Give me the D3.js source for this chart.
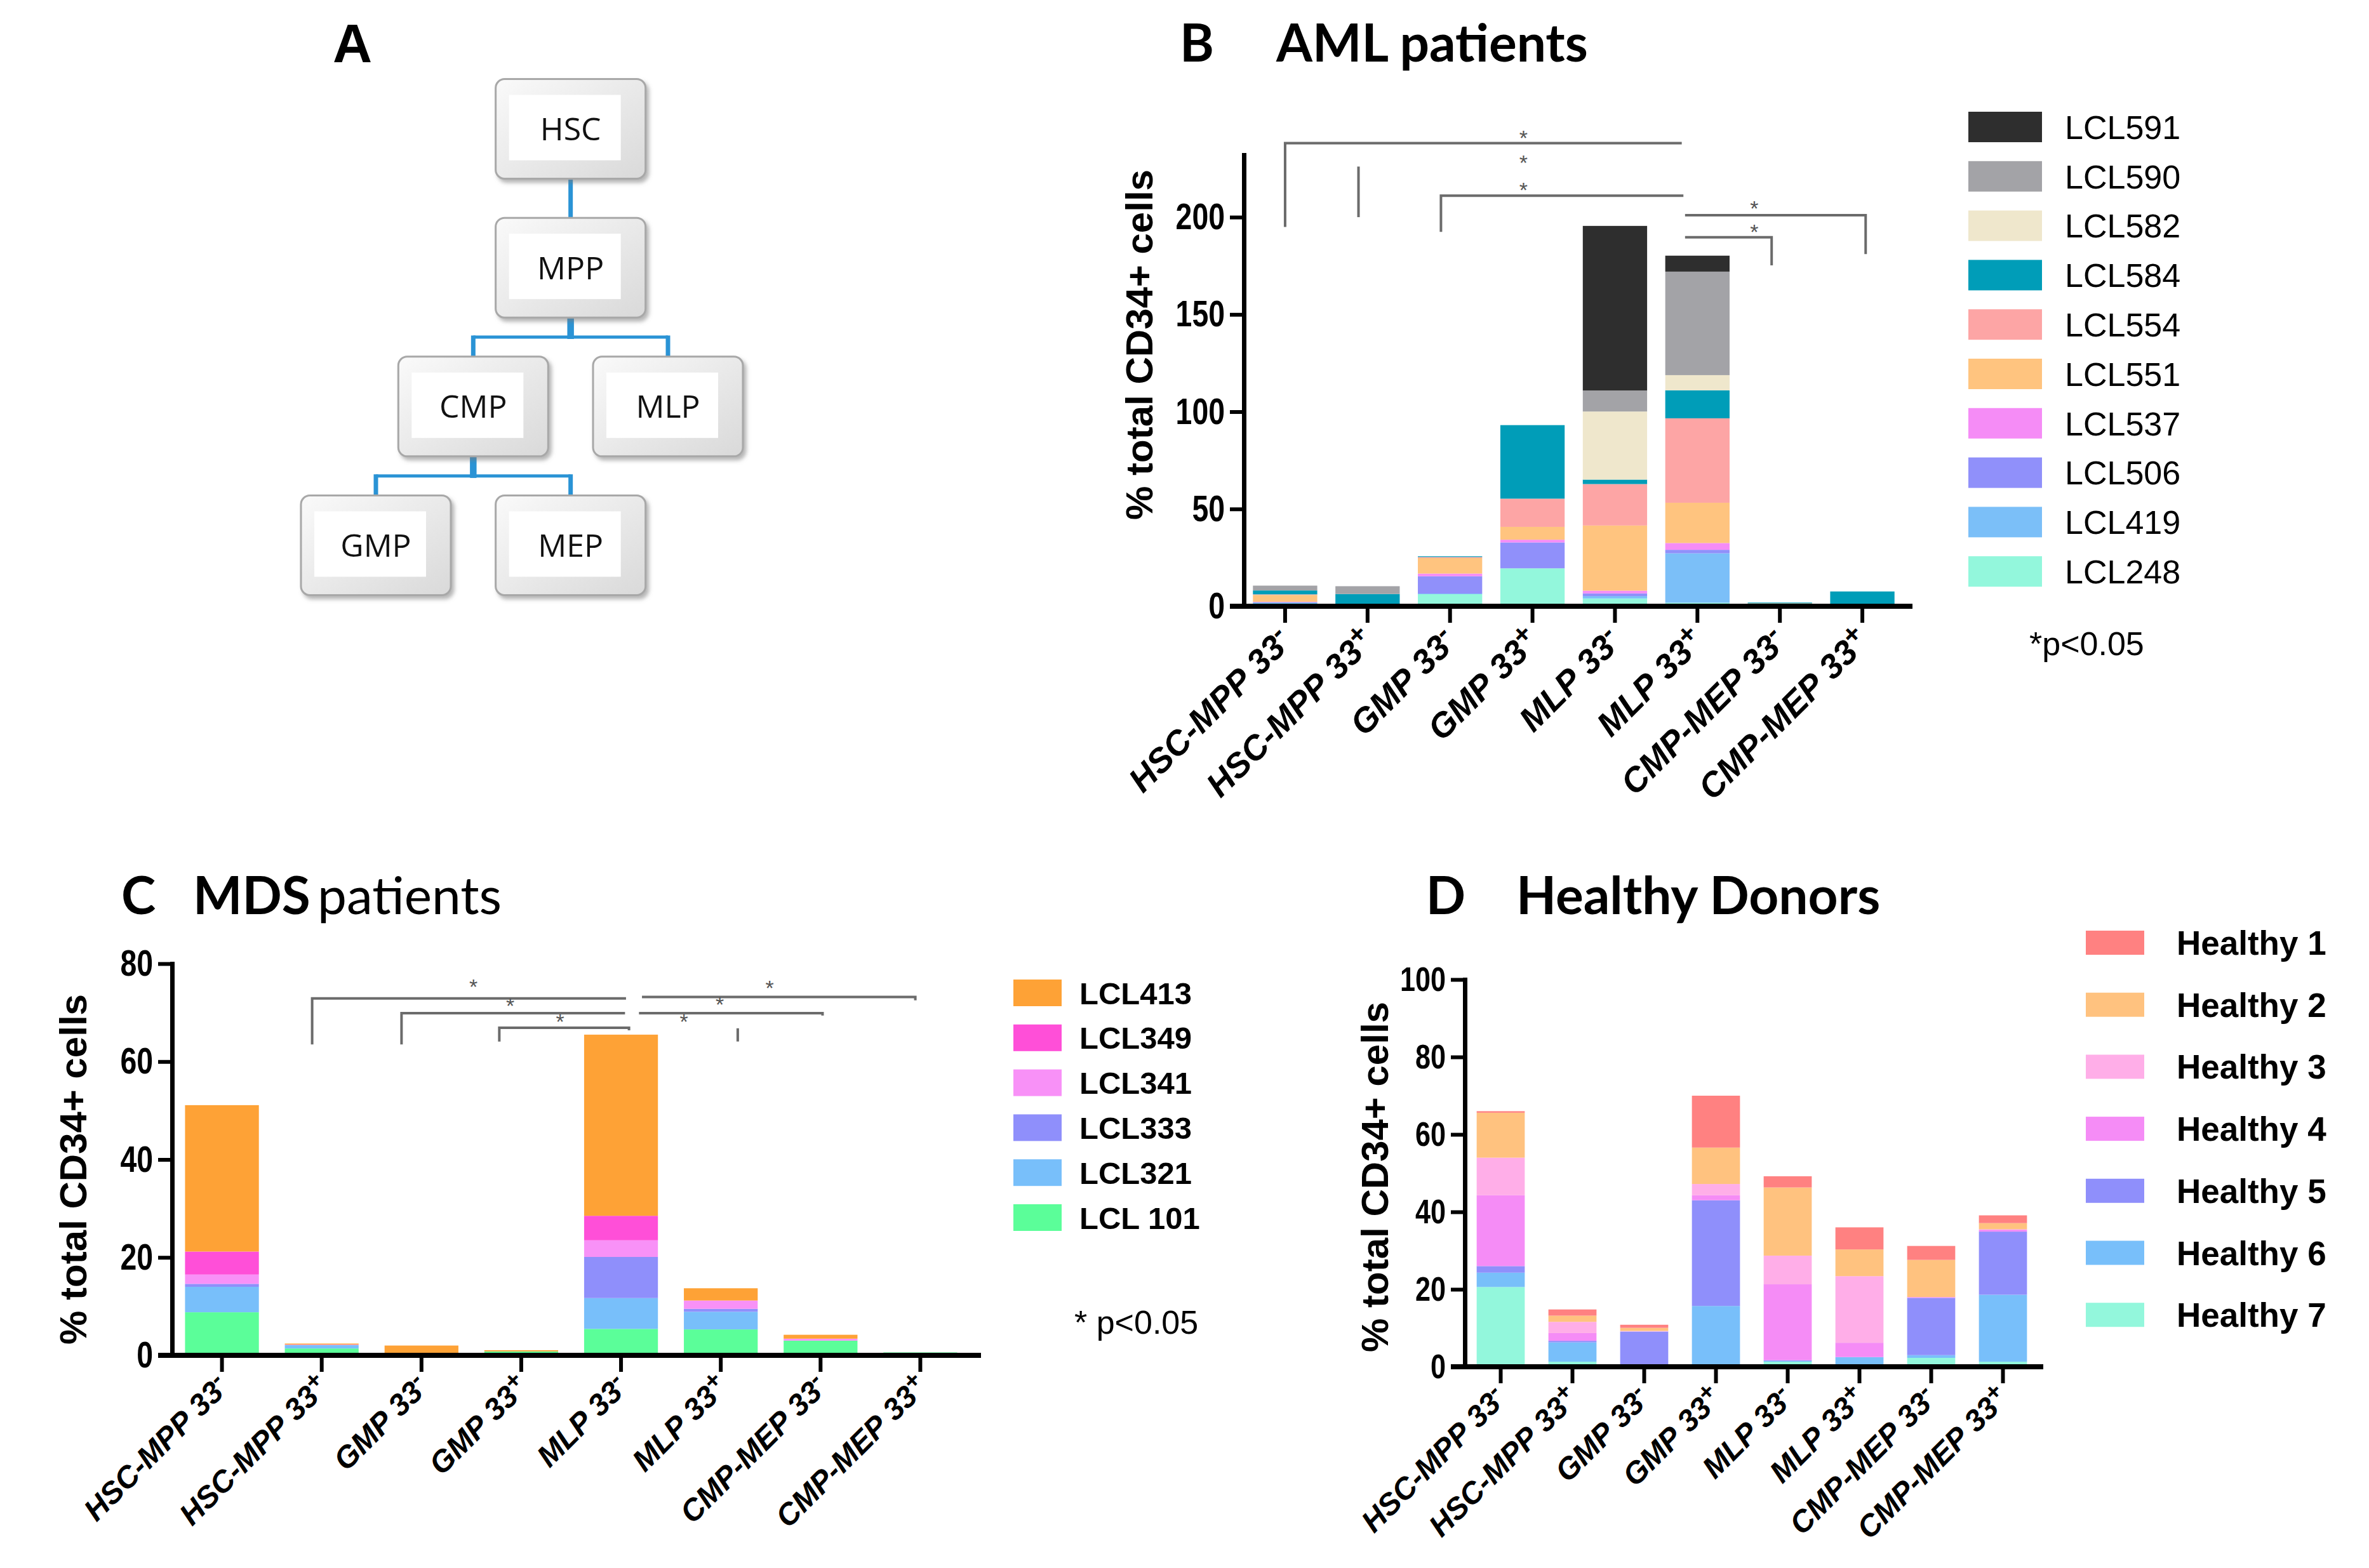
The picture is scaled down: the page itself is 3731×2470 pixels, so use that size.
<!DOCTYPE html>
<html>
<head>
<meta charset="utf-8">
<script src="https://cdn.jsdelivr.net/npm/d3@7"></script>
<style>
  body { margin: 0; background: #fff; }
  svg { display: block; }
</style>
</head>
<body>
<svg id="fig"></svg>
<script>
// categories on the x axis of panels B, C and D
const categories = ["HSC-MPP 33-", "HSC-MPP 33+", "GMP 33-", "GMP 33+", "MLP 33-", "MLP 33+", "CMP-MEP 33-", "CMP-MEP 33+"];

// panel B - AML patients, stacked bottom -> top
const amlNames = ["LCL248", "LCL419", "LCL506", "LCL537", "LCL551", "LCL554", "LCL584", "LCL582", "LCL590", "LCL591"];
const lcl248 = [1.2, 0.5, 6.2, 19.5, 4.0, 1.8, 1.2, 0.3];
const lcl419 = [0.8, 0.3, 0.3, 0, 1.2, 25.4, 0, 0];
const lcl506 = [0, 0, 8.9, 13.3, 1.4, 1.8, 0, 0];
const lcl537 = [0.3, 0, 1.4, 1.4, 1.4, 3.5, 0, 0];
const lcl551 = [3.5, 0, 8.0, 6.6, 33.5, 20.7, 0.3, 0.5];
const lcl554 = [0.3, 0, 0.5, 14.5, 21.3, 43.4, 0, 0];
const lcl584 = [2.0, 5.5, 0.4, 37.8, 2.3, 14.4, 0.4, 6.8];
const lcl582 = [0, 0, 0, 0, 35.0, 7.8, 0, 0];
const lcl590 = [2.5, 4.0, 0, 0, 10.8, 53.2, 0, 0];
const lcl591 = [0, 0, 0, 0, 84.6, 8.2, 0, 0];
const amlTicks = [0, 50, 100, 150, 200];
// significance brackets: [category index, value] points, and star marks
const amlBrackets = [
  [[0, 195], [0, 238], [4.81, 238]],
  [[0.89, 200], [0.89, 226]],
  [[1.89, 192.4], [1.89, 211], [4.83, 211]],
  [[4.85, 201], [7.04, 201], [7.04, 181]],
  [[4.85, 189.7], [5.90, 189.7], [5.90, 175.2]]
];
const amlStars = [[2.89, 242], [2.89, 229], [2.89, 215], [5.69, 205.7], [5.69, 193.6]];

// panel C - MDS patients, stacked bottom -> top
const mdsNames = ["LCL 101", "LCL321", "LCL333", "LCL341", "LCL349", "LCL413"];
const lcl101 = [8.8, 1.4, 0.4, 0.8, 5.4, 5.3, 3.0, 0.6];
const lcl321 = [5.2, 0.7, 0.1, 0, 6.3, 3.6, 0, 0];
const lcl333 = [0.6, 0, 0, 0, 8.4, 0.6, 0, 0];
const lcl341 = [1.9, 0.1, 0, 0, 3.4, 1.7, 0.4, 0];
const lcl349 = [4.7, 0, 0, 0, 5.0, 0, 0, 0];
const lcl413 = [29.9, 0.2, 1.5, 0.25, 37.0, 2.5, 0.8, 0];
const mdsTicks = [0, 20, 40, 60, 80];
const mdsBrackets = [
  [[0.904, 63.5], [0.904, 72.9], [4.05, 72.9]],
  [[1.80, 63.5], [1.80, 69.9], [4.04, 69.9]],
  [[2.78, 64.1], [2.78, 66.9], [4.08, 66.9], [4.08, 66.4]],
  [[4.21, 73.2], [6.95, 73.2], [6.95, 72.5]],
  [[4.18, 69.9], [6.02, 69.9], [6.02, 69.4]],
  [[5.17, 66.8], [5.17, 64.1]]
];
const mdsStars = [[2.52, 75.8], [2.89, 71.9], [3.39, 68.6], [5.49, 75.5], [4.99, 72.1], [4.63, 68.6]];

// panel D - healthy donors, stacked bottom -> top
const hdNames = ["Healthy 7", "Healthy 6", "Healthy 5", "Healthy 4", "Healthy 3", "Healthy 2", "Healthy 1"];
const healthy7 = [20.6, 1.3, 0.5, 0, 1.3, 0.5, 2.3, 1.3];
const healthy6 = [3.7, 5.0, 0, 15.7, 0.2, 2.0, 0.7, 17.3];
const healthy5 = [1.7, 0.4, 8.6, 27.3, 0.2, 0, 14.8, 16.3];
const healthy4 = [18.3, 2.0, 0, 1.3, 19.6, 3.7, 0.2, 0.5];
const healthy3 = [9.7, 2.9, 0.15, 2.9, 7.4, 17.2, 0, 0.1];
const healthy2 = [11.6, 1.6, 0.8, 9.4, 17.6, 6.9, 9.6, 1.6];
const healthy1 = [0.4, 1.6, 0.8, 13.4, 2.9, 5.7, 3.6, 2.0];
const hdTicks = [0, 20, 40, 60, 80, 100];

// panel A - hierarchy tree
const treeNodes = ["HSC", "MPP", "CMP", "MLP", "GMP", "MEP"];
const treeCols = [2, 2, 1, 3, 0, 2];
const treeRows = [0, 1, 2, 2, 3, 3];
const treeLinks = [["HSC", "MPP"], ["MPP", "CMP"], ["MPP", "MLP"], ["CMP", "GMP"], ["CMP", "MEP"]];

const W = 3731, H = 2470;
const svg = d3.select("#fig").attr("width", W).attr("height", H).attr("viewBox", `0 0 ${W} ${H}`);
svg.append("rect").attr("width", W).attr("height", H).attr("fill", "#fff");

const defs = svg.append("defs");
let grad = defs.append("linearGradient").attr("id", "bevel").attr("x1", 0).attr("y1", 0).attr("x2", 1).attr("y2", 1);
grad.append("stop").attr("offset", "0%").attr("stop-color", "#fafafa");
grad.append("stop").attr("offset", "100%").attr("stop-color", "#d9d9d9");
let shadow = defs.append("filter").attr("id", "shadow").attr("x", "-10%").attr("y", "-10%").attr("width", "130%").attr("height", "140%");
shadow.append("feDropShadow").attr("dx", 4).attr("dy", 5).attr("stdDeviation", 3).attr("flood-color", "#777").attr("flood-opacity", 0.55);

const sansB = "'Liberation Sans', Arial, sans-serif";
const titleFont = "Lato, 'Open Sans', sans-serif";

// ---------- panel A ----------
let drawTree = () => {
  const colX = d3.scaleLinear().domain([0, 3]).range([592, 1052]);
  const rowY = d3.scaleLinear().domain([0, 3]).range([203, 859]);
  const boxW = 236, boxH = 157;
  const pos = (name) => {
    const i = treeNodes.indexOf(name);
    return { x: colX(treeCols[i]), y: rowY(treeRows[i]) };
  };
  const linkColor = "#2a93d5";
  treeLinks.forEach(([a, b]) => {
    const pa = pos(a), pb = pos(b);
    const yb = pa.y + boxH / 2, yt = pb.y - boxH / 2, ym = (yb + yt) / 2;
    if (pa.x === pb.x && a === "HSC") {
      svg.append("line").attr("x1", pa.x).attr("x2", pb.x).attr("y1", yb).attr("y2", yt)
        .attr("stroke", linkColor).attr("stroke-width", 7);
      return;
    }
    svg.append("line").attr("x1", pa.x).attr("x2", pa.x).attr("y1", yb).attr("y2", ym + 3)
      .attr("stroke", linkColor).attr("stroke-width", 10);
    svg.append("line").attr("x1", pa.x).attr("x2", pb.x).attr("y1", ym).attr("y2", ym)
      .attr("stroke", linkColor).attr("stroke-width", 5);
    svg.append("line").attr("x1", pb.x).attr("x2", pb.x).attr("y1", ym - 2.5).attr("y2", yt)
      .attr("stroke", linkColor).attr("stroke-width", 7);
  });
  const node = svg.selectAll("g.node").data(treeNodes).join("g").attr("class", "node")
    .attr("transform", (d, i) => `translate(${colX(treeCols[i])},${rowY(treeRows[i])})`);
  node.append("rect").attr("x", -boxW / 2).attr("y", -boxH / 2).attr("width", boxW).attr("height", boxH)
    .attr("rx", 14).attr("fill", "url(#bevel)").attr("stroke", "#a8a8a8").attr("stroke-width", 3)
    .attr("filter", "url(#shadow)");
  node.append("rect").attr("x", -boxW / 2 + 21).attr("y", -boxH / 2 + 25).attr("width", boxW - 60).attr("height", boxH - 54)
    .attr("fill", "#fff");
  node.append("text").text(d => d).attr("text-anchor", "middle").attr("dy", "0.36em")
    .attr("font-family", "'Open Sans', sans-serif").attr("font-size", 50).attr("fill", "#111");
  svg.append("text").text("A").attr("x", 555).attr("y", 98).attr("text-anchor", "middle")
    .attr("font-family", sansB).attr("font-weight", 900).attr("font-size", 86);
};

// ---------- stacked bar panels ----------
let drawPanel = (cfg) => {
  const g = svg.append("g");
  const x = d3.scaleBand().domain(categories).range([cfg.left, cfg.right])
    .paddingInner(cfg.pad).paddingOuter(cfg.pad / 2);
  const y = d3.scaleLinear().domain([0, cfg.yMax]).range([cfg.bottom, cfg.top]);
  const idx = d3.scaleLinear().domain([0, categories.length - 1])
    .range([x(categories[0]) + x.bandwidth() / 2, x(categories[categories.length - 1]) + x.bandwidth() / 2]);

  const rows = categories.map((c, i) => {
    const r = { cat: c };
    cfg.names.forEach((n, k) => { r[n] = cfg.values[k][i]; });
    return r;
  });
  const stacked = d3.stack().keys(cfg.names)(rows);
  g.selectAll("g.layer").data(stacked).join("g").attr("class", "layer")
    .attr("fill", (d, k) => cfg.colors[k])
    .selectAll("rect").data(d => d).join("rect")
    .attr("x", d => x(d.data.cat)).attr("width", x.bandwidth())
    .attr("y", d => y(d[1])).attr("height", d => Math.max(0, y(d[0]) - y(d[1])));

  // brackets
  const line = d3.line().x(d => idx(d[0])).y(d => y(d[1]));
  g.selectAll("path.br").data(cfg.brackets).join("path").attr("class", "br")
    .attr("d", line).attr("fill", "none").attr("stroke", "#6b6b6b").attr("stroke-width", 4);
  g.selectAll("text.star").data(cfg.stars).join("text").attr("class", "star")
    .attr("x", d => idx(d[0])).attr("y", d => y(d[1])).attr("dy", "0.45em")
    .attr("text-anchor", "middle").attr("font-family", sansB).attr("font-size", 34).attr("fill", "#555")
    .text("*");

  // y axis, labels drawn condensed like the original
  const ya = g.append("g").attr("transform", `translate(${cfg.left},0)`)
    .call(d3.axisLeft(y).tickValues(cfg.ticks).tickSize(22).tickSizeOuter(0).tickPadding(8));
  ya.select(".domain").attr("stroke", "#000").attr("stroke-width", 7).attr("stroke-linecap", "square");
  ya.selectAll(".tick line").attr("stroke", "#000").attr("stroke-width", 6);
  ya.selectAll(".tick text").attr("font-family", sansB).attr("font-weight", "bold")
    .attr("font-size", cfg.tickFont).attr("fill", "#000")
    .attr("x", -30 / 0.8).attr("transform", "scale(0.8,1)");

  // x axis
  const xa = g.append("g").attr("transform", `translate(0,${cfg.bottom})`)
    .call(d3.axisBottom(x).tickSize(26).tickSizeOuter(0).tickFormat(""));
  xa.select(".domain").attr("d", `M${cfg.left - 22},0H${cfg.axisEnd}`)
    .attr("stroke", "#000").attr("stroke-width", 8);
  xa.selectAll(".tick line").attr("stroke", "#000").attr("stroke-width", 6);

  // rotated category labels
  g.selectAll("text.cat").data(categories).join("text").attr("class", "cat")
    .attr("transform", d => `translate(${x(d) + x.bandwidth() / 2 + cfg.labDx},${cfg.bottom + cfg.labDy}) rotate(-45)`)
    .attr("text-anchor", "end").attr("font-family", sansB).attr("font-weight", "bold")
    .attr("font-style", "italic").attr("font-size", cfg.labFont)
    .each(function (d) {
      const t = d3.select(this);
      t.append("tspan").text(d.slice(0, -1));
      t.append("tspan").text(d.slice(-1)).attr("dy", "-0.4em").attr("font-size", "0.8em");
    });

  // y title
  g.append("text").text("% total CD34+ cells")
    .attr("transform", `translate(${cfg.titleX},${cfg.titleY}) rotate(-90)`)
    .attr("text-anchor", "middle").attr("dy", "0.35em")
    .attr("font-family", sansB).attr("font-weight", "bold").attr("font-size", 60);

  // legend (top row = top of stack)
  const lg = cfg.legend;
  const order = cfg.names.map((n, k) => k).reverse();
  order.forEach((k, r) => {
    const cy = lg.y0 + r * lg.step;
    g.append("rect").attr("x", lg.x).attr("y", cy - lg.h / 2).attr("width", lg.w).attr("height", lg.h)
      .attr("fill", cfg.colors[k]);
    g.append("text").text(cfg.names[k]).attr("x", lg.tx).attr("y", cy).attr("dy", "0.36em")
      .attr("font-family", sansB).attr("font-weight", lg.weight).attr("font-size", lg.font).attr("fill", "#000");
  });
  if (cfg.note) {
    g.append("text").text(cfg.note.text).attr("x", cfg.note.x).attr("y", cfg.note.y)
      .attr("font-family", sansB).attr("font-size", 52).attr("fill", "#000");
  }
};

let drawTitles = () => {
  const t = (txt, x, y, weight, anchor) => svg.append("text").text(txt).attr("x", x).attr("y", y)
    .attr("text-anchor", anchor || "start").attr("font-family", titleFont)
    .attr("font-weight", weight).attr("font-size", 82).attr("fill", "#000");
  t("B", 1885, 97, "bold", "middle");
  t("AML patients", 2010, 97, "bold");
  t("C", 218, 1440, "bold", "middle");
  t("MDS", 304, 1440, "bold");
  t("patients", 500, 1440, "normal");
  t("D", 2277, 1440, "bold", "middle");
  t("Healthy Donors", 2388, 1440, "bold");
};

drawTree();

drawPanel({
  names: amlNames,
  values: [lcl248, lcl419, lcl506, lcl537, lcl551, lcl554, lcl584, lcl582, lcl590, lcl591],
  colors: ["#93f7dc", "#7bbff8", "#9090fa", "#f58cf6", "#ffc47f", "#fda5a5", "#009db8", "#efe7cc", "#a3a3a7", "#2e2e2e"],
  left: 1959, right: 2998, pad: 0.22, bottom: 955, top: 244, yMax: 232, axisEnd: 3012,
  ticks: amlTicks, tickFont: 58,
  brackets: amlBrackets, stars: amlStars,
  labDx: 14, labDy: 58, labFont: 54,
  titleX: 1794, titleY: 543,
  legend: { x: 3100, w: 116, h: 48, tx: 3252, y0: 200, step: 77.8, font: 52, weight: "normal" },
  note: { text: "*p<0.05", x: 3196, y: 1032 }
});

drawPanel({
  names: mdsNames,
  values: [lcl101, lcl321, lcl333, lcl341, lcl349, lcl413],
  colors: ["#5bfe99", "#78bffa", "#8f8ffb", "#f891f7", "#ff4fd8", "#fea236"],
  left: 271, right: 1528, pad: 0.26, bottom: 2135, top: 1518, yMax: 80, axisEnd: 1545,
  ticks: mdsTicks, tickFont: 58,
  brackets: mdsBrackets, stars: mdsStars,
  labDx: 14, labDy: 52, labFont: 48,
  titleX: 115, titleY: 1842,
  legend: { x: 1596, w: 76, h: 42, tx: 1700, y0: 1564, step: 70.8, font: 49, weight: "bold" },
  note: { text: "* p<0.05", x: 1692, y: 2101 }
});

drawPanel({
  names: hdNames,
  values: [healthy7, healthy6, healthy5, healthy4, healthy3, healthy2, healthy1],
  colors: ["#93f7dc", "#78bffa", "#8f8ffb", "#f58cf6", "#ffaee8", "#ffc27f", "#ff8181"],
  left: 2307, right: 3211, pad: 0.33, bottom: 2153, top: 1543, yMax: 100, axisEnd: 3218,
  ticks: hdTicks, tickFont: 54,
  brackets: [], stars: [],
  labDx: 12, labDy: 52, labFont: 48,
  titleX: 2165, titleY: 1854,
  legend: { x: 3285, w: 92, h: 38, tx: 3428, y0: 1485, step: 97.7, font: 53, weight: "bold" },
  note: null
});

drawTitles();
</script>
</body>
</html>
